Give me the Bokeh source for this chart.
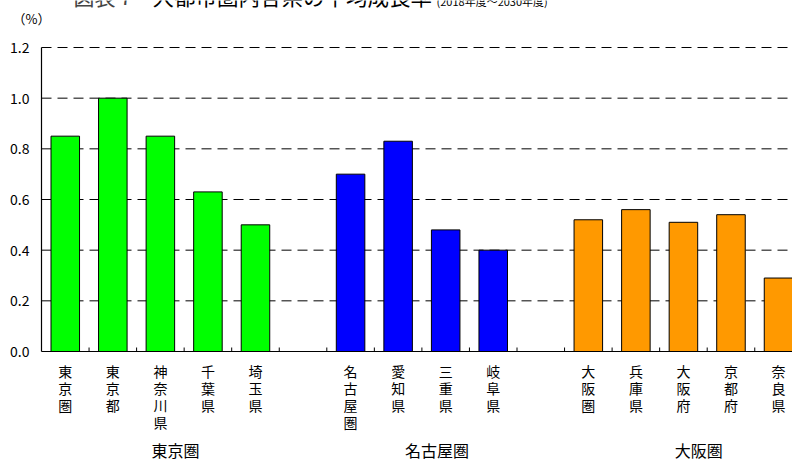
from bokeh.plotting import figure
from bokeh.models import Range1d
from bokeh.core.properties import value
from bokeh.embed import file_html
from bokeh.resources import INLINE

# --- data -------------------------------------------------------------
groups = ["東京圏", "名古屋圏", "大阪圏"]
group_colors = ["#00FF00", "#0000FF", "#FF9900"]

tokyo_names = ["東京圏", "東京都", "神奈川県", "千葉県", "埼玉県"]
tokyo_values = [0.85, 1.00, 0.85, 0.63, 0.50]

nagoya_names = ["名古屋圏", "愛知県", "三重県", "岐阜県"]
nagoya_values = [0.70, 0.83, 0.48, 0.40]

osaka_names = ["大阪圏", "兵庫県", "大阪府", "京都府", "奈良県"]
osaka_values = [0.52, 0.56, 0.51, 0.54, 0.29]

y_ticks = [0.0, 0.2, 0.4, 0.6, 0.8, 1.0, 1.2]
y_tick_labels = ["0.0", "0.2", "0.4", "0.6", "0.8", "1.0", "1.2"]

title_num = "図表７"
title_main = "大都市圏内各県の平均成長率"
title_period = "(2018年度～2030年度)"
unit_label = "（%）"

# --- layout constants (pixels) -----------------------------------------
W, H = 792, 459
AXIS_L, AXIS_T, AXIS_B = 41, 47, 351   # plotting area inside the canvas
SLOT_PX = 47.55
Y_MAX = 1.2
FONT = value("Noto Sans CJK JP")


def sx(px):
    """canvas x pixel -> slot units"""
    return (px - AXIS_L) / SLOT_PX


def sy(py):
    """canvas y pixel (from top) -> percent units"""
    return (AXIS_B - py) / (AXIS_B - AXIS_T) * Y_MAX


def dy(n_px):
    return n_px / (AXIS_B - AXIS_T) * Y_MAX


# one slot per prefecture, one empty slot between regions
series = [(tokyo_names, tokyo_values), (nagoya_names, nagoya_values), (osaka_names, osaka_values)]
xs, tops, fills, names, group_centers = [], [], [], [], []
slot = 0
for (nm, vals), col in zip(series, group_colors):
    start = slot
    for n, v in zip(nm, vals):
        xs.append(slot + 0.5)
        tops.append(v)
        fills.append(col)
        names.append("\n".join(n))
        slot += 1
    group_centers.append((start + slot) / 2 + 0.32)
    slot += 1

x_end = sx(W)

p = figure(width=W, height=H, output_backend="svg", toolbar_location=None,
           x_range=Range1d(sx(0), x_end), y_range=Range1d(sy(H), sy(0)),
           x_axis_type=None, y_axis_type=None,
           min_border=0, min_border_left=0, min_border_right=0,
           min_border_top=0, min_border_bottom=0)
p.outline_line_color = None
p.background_fill_color = "white"
p.border_fill_color = "white"
p.grid.visible = False

# dashed horizontal grid
grid_y = y_ticks[1:]
p.segment(x0=[0] * len(grid_y), x1=[x_end] * len(grid_y), y0=grid_y, y1=grid_y,
          line_color="black", line_width=1, line_dash="10 6")

# bars
p.vbar(x=xs, top=tops, bottom=0, width=0.6, fill_color=fills,
       line_color="black", line_width=1)

# axis lines
p.segment(x0=[0, 0], y0=[0, 0], x1=[0, x_end], y1=[Y_MAX, 0],
          line_color="black", line_width=1.2)

# small inward ticks between slots
tick_x = list(range(1, slot))
p.segment(x0=tick_x, x1=tick_x, y0=[0] * len(tick_x), y1=[dy(4)] * len(tick_x),
          line_color="black", line_width=1)

# y tick labels
p.text(x=[sx(29)] * len(y_ticks), y=y_ticks, text=y_tick_labels,
       text_align="right", text_baseline="middle", text_font=FONT,
       text_font_size="14px", text_color="black")

# vertical category labels, one character per line
p.text(x=xs, y=[sy(360)] * len(xs), text=names, text_align="center",
       text_baseline="top", text_font=FONT, text_font_size="14px",
       text_line_height=0.86, text_color="black")

# region labels
p.text(x=group_centers, y=[sy(449)] * len(groups), text=groups,
       text_align="center", text_baseline="middle", text_font=FONT,
       text_font_size="16px", text_color="black")

# unit
p.text(x=[sx(12)], y=[sy(18)], text=[unit_label], text_align="left",
       text_baseline="middle", text_font=FONT, text_font_size="13px",
       text_color="black")

# title (its upper part runs off the top of the page)
p.text(x=[sx(73)], y=[sy(-5)], text=[title_num], text_align="left",
       text_baseline="middle", text_font=FONT, text_font_size="21px",
       text_color="#444444")
p.text(x=[sx(152)], y=[sy(-5.5)], text=[title_main], text_align="left",
       text_baseline="middle", text_font=FONT, text_font_size="21.5px",
       text_color="black")
p.text(x=[sx(436)], y=[sy(0)], text=[title_period], text_align="left",
       text_baseline="middle", text_font=FONT, text_font_size="11px",
       text_color="black")

open("out.html", "w").write(file_html(p, INLINE))
